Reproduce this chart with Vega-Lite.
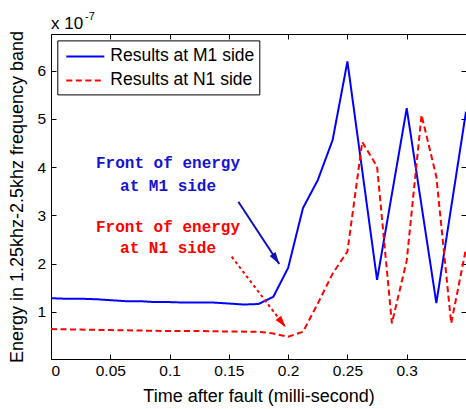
{
  "$schema": "https://vega.github.io/schema/vega-lite/v6.json",
  "width": 415,
  "height": 325,
  "autosize": {"type": "none"},
  "padding": {"left": 51, "top": 34, "right": 0, "bottom": 50},
  "background": "white",
  "config": {
    "view": {"stroke": "black", "strokeWidth": 1},
    "font": "Liberation Sans",
    "axis": {
      "domain": false,
      "grid": false,
      "tickColor": "black",
      "tickSize": -5,
      "tickWidth": 1,
      "labelColor": "black",
      "labelFont": "Liberation Sans",
      "labelFontSize": 15.5,
      "titleColor": "black",
      "titleFont": "Liberation Sans",
      "titleFontSize": 18,
      "titleFontWeight": "normal"
    },
    "legend": {
      "title": null, "orient": "none", "legendX": 6.3, "legendY": 6.4,
      "strokeColor": "black", "fillColor": "white", "padding": 5,
      "labelFontSize": 17.5, "labelColor": "black", "labelFont": "Liberation Sans",
      "symbolType": "M-0.7,0L3.1,0", "symbolSize": 400, "symbolStrokeWidth": 2,
      "labelOffset": 26, "rowPadding": 4, "cornerRadius": 0
    }
  },
  "datasets": {
    "lines": [
      {"series": "Results at M1 side", "t": 0, "v": 1.28},
      {"series": "Results at M1 side", "t": 0.0125, "v": 1.27},
      {"series": "Results at M1 side", "t": 0.025, "v": 1.27},
      {"series": "Results at M1 side", "t": 0.0375, "v": 1.26},
      {"series": "Results at M1 side", "t": 0.05, "v": 1.24},
      {"series": "Results at M1 side", "t": 0.0625, "v": 1.22},
      {"series": "Results at M1 side", "t": 0.075, "v": 1.22},
      {"series": "Results at M1 side", "t": 0.0875, "v": 1.2},
      {"series": "Results at M1 side", "t": 0.1, "v": 1.2},
      {"series": "Results at M1 side", "t": 0.1125, "v": 1.19},
      {"series": "Results at M1 side", "t": 0.125, "v": 1.19},
      {"series": "Results at M1 side", "t": 0.1375, "v": 1.19},
      {"series": "Results at M1 side", "t": 0.15, "v": 1.17},
      {"series": "Results at M1 side", "t": 0.1625, "v": 1.15},
      {"series": "Results at M1 side", "t": 0.175, "v": 1.16},
      {"series": "Results at M1 side", "t": 0.1875, "v": 1.31},
      {"series": "Results at M1 side", "t": 0.2, "v": 1.91},
      {"series": "Results at M1 side", "t": 0.2125, "v": 3.15},
      {"series": "Results at M1 side", "t": 0.225, "v": 3.73},
      {"series": "Results at M1 side", "t": 0.2375, "v": 4.56},
      {"series": "Results at M1 side", "t": 0.25, "v": 6.19},
      {"series": "Results at M1 side", "t": 0.275, "v": 1.66},
      {"series": "Results at M1 side", "t": 0.3, "v": 5.22},
      {"series": "Results at M1 side", "t": 0.325, "v": 1.18},
      {"series": "Results at M1 side", "t": 0.35, "v": 5.15},
      {"series": "Results at N1 side", "t": 0, "v": 0.64},
      {"series": "Results at N1 side", "t": 0.025, "v": 0.63},
      {"series": "Results at N1 side", "t": 0.05, "v": 0.62},
      {"series": "Results at N1 side", "t": 0.075, "v": 0.61},
      {"series": "Results at N1 side", "t": 0.1, "v": 0.6},
      {"series": "Results at N1 side", "t": 0.125, "v": 0.6},
      {"series": "Results at N1 side", "t": 0.15, "v": 0.59},
      {"series": "Results at N1 side", "t": 0.175, "v": 0.585},
      {"series": "Results at N1 side", "t": 0.1875, "v": 0.55},
      {"series": "Results at N1 side", "t": 0.2, "v": 0.48},
      {"series": "Results at N1 side", "t": 0.2125, "v": 0.585},
      {"series": "Results at N1 side", "t": 0.225, "v": 1.17},
      {"series": "Results at N1 side", "t": 0.2375, "v": 1.79},
      {"series": "Results at N1 side", "t": 0.25, "v": 2.25},
      {"series": "Results at N1 side", "t": 0.2625, "v": 4.52},
      {"series": "Results at N1 side", "t": 0.275, "v": 4.01},
      {"series": "Results at N1 side", "t": 0.2875, "v": 0.76},
      {"series": "Results at N1 side", "t": 0.3, "v": 2.06},
      {"series": "Results at N1 side", "t": 0.3125, "v": 5.08},
      {"series": "Results at N1 side", "t": 0.325, "v": 3.8},
      {"series": "Results at N1 side", "t": 0.3375, "v": 0.76},
      {"series": "Results at N1 side", "t": 0.35, "v": 2.31}
    ],
    "notes": [
      {"side": "M1", "t": 0.0987, "v": 4.085, "label": "Front of energy"},
      {"side": "M1", "t": 0.0987, "v": 3.61, "label": "at M1 side"},
      {"side": "N1", "t": 0.0987, "v": 2.757, "label": "Front of energy"},
      {"side": "N1", "t": 0.0987, "v": 2.315, "label": "at N1 side"}
    ],
    "arrows": [
      {"side": "M1", "t": 0.158, "v": 3.28, "t2": 0.1925, "v2": 1.99},
      {"side": "N1", "t": 0.1524, "v": 2.141, "t2": 0.1979, "v2": 0.676}
    ],
    "exp": [
      {"part": "base", "t": 0, "v": 6.87, "label": "x 10"},
      {"part": "sup", "t": 0.0287, "v": 7.06, "label": "-7"}
    ]
  },
  "encoding": {
    "x": {"type": "quantitative", "scale": {"domain": [0, 0.35], "nice": false, "zero": false}},
    "y": {"type": "quantitative", "scale": {"domain": [0.02, 6.76], "nice": false, "zero": false}}
  },
  "layer": [
    {
      "data": {"name": "lines"},
      "mark": {"type": "line", "strokeWidth": 2},
      "encoding": {
        "x": {"field": "t", "type": "quantitative",
          "axis": {"values": [0, 0.05, 0.1, 0.15, 0.2, 0.25, 0.3], "format": "~g", "labelPadding": 9, "title": "Time after fault (milli-second)", "titlePadding": 9}},
        "y": {"field": "v", "type": "quantitative",
          "axis": {"values": [1, 2, 3, 4, 5, 6], "format": "d", "labelPadding": 10.5, "title": "Energy in 1.25khz-2.5khz frequency band", "titlePadding": 10}},
        "color": {"field": "series", "type": "nominal",
          "scale": {"domain": ["Results at M1 side", "Results at N1 side"], "range": ["#0000ff", "#ff0000"]}},
        "strokeDash": {"field": "series", "type": "nominal",
          "scale": {"domain": ["Results at M1 side", "Results at N1 side"], "range": [[1, 0], [6, 3.5]]}}
      }
    },
    {
      "data": {"name": "lines"},
      "mark": {"type": "line", "opacity": 0},
      "encoding": {
        "x": {"field": "t", "type": "quantitative",
          "axis": {"orient": "top", "values": [0, 0.05, 0.1, 0.15, 0.2, 0.25, 0.3], "labels": false, "title": null}},
        "y": {"field": "v", "type": "quantitative",
          "axis": {"orient": "right", "values": [1, 2, 3, 4, 5, 6], "labels": false, "title": null}},
        "detail": {"field": "series"}
      }
    },
    {
      "data": {"name": "notes"},
      "transform": [{"filter": "datum.side === 'M1'"}],
      "mark": {"type": "text", "font": "Liberation Mono", "fontWeight": "bold", "fontSize": 16, "color": "#1414d2", "align": "center", "baseline": "middle"},
      "encoding": {
        "x": {"field": "t", "type": "quantitative", "axis": null},
        "y": {"field": "v", "type": "quantitative", "axis": null},
        "text": {"field": "label"}
      }
    },
    {
      "data": {"name": "notes"},
      "transform": [{"filter": "datum.side === 'N1'"}],
      "mark": {"type": "text", "font": "Liberation Mono", "fontWeight": "bold", "fontSize": 16, "color": "#ff0000", "align": "center", "baseline": "middle"},
      "encoding": {
        "x": {"field": "t", "type": "quantitative", "axis": null},
        "y": {"field": "v", "type": "quantitative", "axis": null},
        "text": {"field": "label"}
      }
    },
    {
      "data": {"name": "arrows"},
      "transform": [{"filter": "datum.side === 'M1'"}],
      "mark": {"type": "rule", "color": "#1010b4", "strokeWidth": 2},
      "encoding": {
        "x": {"field": "t", "type": "quantitative", "axis": null},
        "y": {"field": "v", "type": "quantitative", "axis": null},
        "x2": {"field": "t2"},
        "y2": {"field": "v2"}
      }
    },
    {
      "data": {"name": "arrows"},
      "transform": [{"filter": "datum.side === 'M1'"}],
      "mark": {"type": "point", "shape": "M0,0L0.5,1.7L-0.5,1.7Z", "filled": true, "color": "#1010b4", "size": 200, "angle": 146.6, "opacity": 1},
      "encoding": {
        "x": {"field": "t2", "type": "quantitative", "axis": null},
        "y": {"field": "v2", "type": "quantitative", "axis": null}
      }
    },
    {
      "data": {"name": "arrows"},
      "transform": [{"filter": "datum.side === 'N1'"}],
      "mark": {"type": "rule", "color": "#ff0000", "strokeWidth": 2, "strokeDash": [3, 3]},
      "encoding": {
        "x": {"field": "t", "type": "quantitative", "axis": null},
        "y": {"field": "v", "type": "quantitative", "axis": null},
        "x2": {"field": "t2"},
        "y2": {"field": "v2"}
      }
    },
    {
      "data": {"name": "arrows"},
      "transform": [{"filter": "datum.side === 'N1'"}],
      "mark": {"type": "point", "shape": "M0,0L0.5,1.7L-0.5,1.7Z", "filled": true, "color": "#ff0000", "size": 200, "angle": 142.6, "opacity": 1},
      "encoding": {
        "x": {"field": "t2", "type": "quantitative", "axis": null},
        "y": {"field": "v2", "type": "quantitative", "axis": null}
      }
    },
    {
      "data": {"name": "exp"},
      "transform": [{"filter": "datum.part === 'base'"}],
      "mark": {"type": "text", "fontSize": 17, "color": "black", "align": "left", "baseline": "alphabetic", "font": "Liberation Sans"},
      "encoding": {
        "x": {"field": "t", "type": "quantitative", "axis": null},
        "y": {"field": "v", "type": "quantitative", "axis": null},
        "text": {"field": "label"}
      }
    },
    {
      "data": {"name": "exp"},
      "transform": [{"filter": "datum.part === 'sup'"}],
      "mark": {"type": "text", "fontSize": 11, "color": "black", "align": "left", "baseline": "alphabetic", "font": "Liberation Sans"},
      "encoding": {
        "x": {"field": "t", "type": "quantitative", "axis": null},
        "y": {"field": "v", "type": "quantitative", "axis": null},
        "text": {"field": "label"}
      }
    }
  ],
  "resolve": {"axis": {"x": "independent", "y": "independent"}}
}
